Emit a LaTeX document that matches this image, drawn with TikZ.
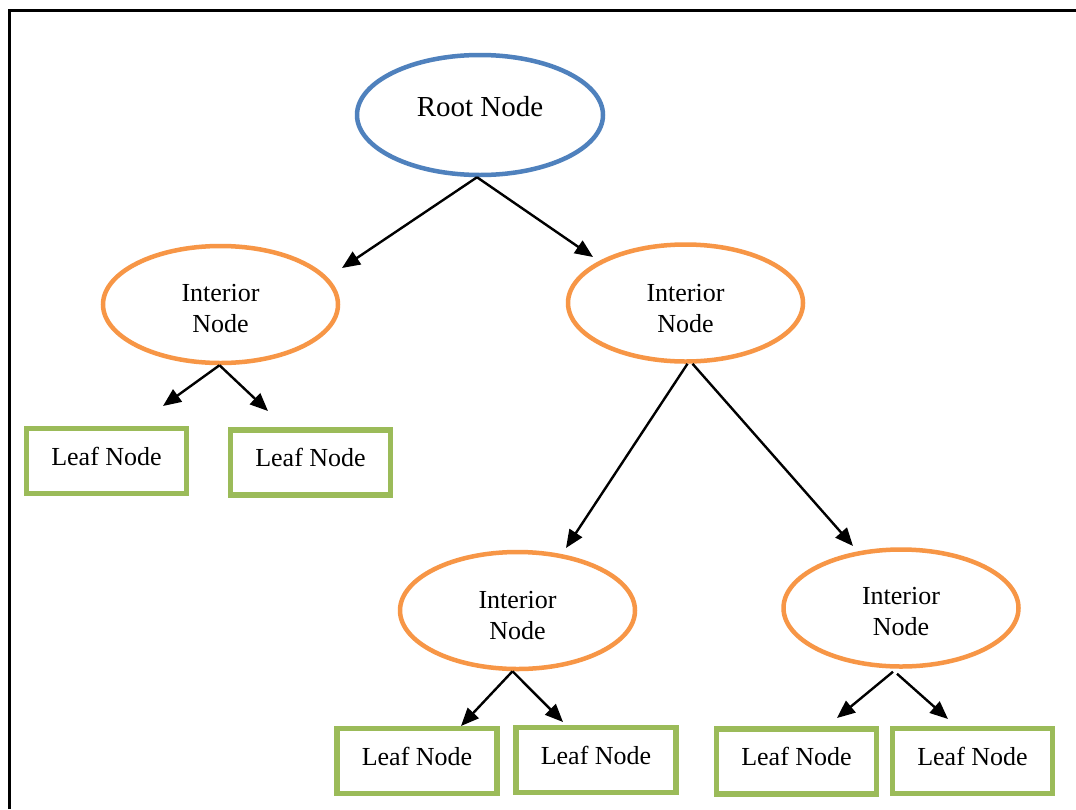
\documentclass[tikz,border=0pt]{standalone}
\usepackage{fontspec}
\setmainfont{Liberation Serif}
\usetikzlibrary{shapes.geometric,arrows.meta}
\definecolor{rootblue}{RGB}{79,129,189}
\definecolor{intorange}{RGB}{247,150,70}
\definecolor{leafgreen}{RGB}{155,187,89}
\begin{document}
\begin{tikzpicture}[x=1pt,y=-1pt,
  rootnode/.style={ellipse, draw=rootblue, line width=4.5pt, minimum width=246pt, minimum height=120pt, inner sep=0pt, font=\fontsize{29}{34}\selectfont, text depth=18pt},
  intnode/.style={ellipse, draw=intorange, line width=4.5pt, minimum width=235pt, minimum height=117pt, inner sep=0pt},
  inttext/.style={inner sep=0pt, align=center, font=\fontsize{26}{31}\selectfont},
  leafnode/.style={rectangle, draw=leafgreen, line width=5.5pt, minimum width=160pt, minimum height=65pt, inner sep=0pt, font=\fontsize{26}{31}\selectfont, text depth=10pt},
  arr/.style={draw=black, line width=2.4pt, -{Triangle[length=18pt,width=15pt]}},
  frameline/.style={draw=black, line width=2.4pt}]
\useasboundingbox (0,0) rectangle (1076,809);
\fill[white] (0,0) rectangle (1076,809);
\draw[frameline] (9.5,809) -- (9.5,10.5) -- (1076,10.5);

\node[rootnode] (root) at (480,115) {Root Node};
\node[intnode] (i1) at (220.5,304.5) {};
\node[intnode] (i2) at (685.5,303) {};
\node[intnode] (i3) at (517.5,610.5) {};
\node[intnode] (i4) at (901,608) {};
\node[inttext] (i1t) at ([yshift=-4pt]i1.center) {Interior\\Node};
\node[inttext] (i2t) at ([yshift=-6pt]i2.center) {Interior\\Node};
\node[inttext] (i3t) at ([yshift=-5pt]i3.center) {Interior\\Node};
\node[inttext] (i4t) at ([yshift=-4pt]i4.center) {Interior\\Node};

\node[leafnode] (l1) at (106.5,461) {Leaf Node};
\node[leafnode] (l2) at (310.5,462.5) {Leaf Node};
\node[leafnode] (l3) at (417,761) {Leaf Node};
\node[leafnode] (l4) at (596,760) {Leaf Node};
\node[leafnode] (l5) at (796.5,761.5) {Leaf Node};
\node[leafnode] (l6) at (972.5,761) {Leaf Node};

\coordinate (t1) at (342,268);
\coordinate (t2) at (593,257);
\coordinate (t3) at (163,406);
\coordinate (t4) at (268,411);
\coordinate (t5) at (566,548);
\coordinate (t6) at (853,546);
\coordinate (t7) at (461,726);
\coordinate (t8) at (563,722);
\coordinate (t9) at (837,718);
\coordinate (t10) at (948,719);

\draw[arr] ([xshift=-3pt]root.south) -- (t1);
\draw[arr] ([xshift=-3pt]root.south) -- (t2);
\draw[arr] ([xshift=-1pt]i1.south) -- (t3);
\draw[arr] ([xshift=-1pt]i1.south) -- (t4);
\draw[arr] ([xshift=2pt]i2.south) -- (t5);
\draw[arr] ([xshift=7pt]i2.south) -- (t6);
\draw[arr] ([xshift=-5pt]i3.south) -- (t7);
\draw[arr] ([xshift=-5pt]i3.south) -- (t8);
\draw[arr] ([xshift=-8pt,yshift=-3pt]i4.south) -- (t9);
\draw[arr] ([xshift=-4pt,yshift=-5pt]i4.south) -- (t10);
\end{tikzpicture}
\end{document}
